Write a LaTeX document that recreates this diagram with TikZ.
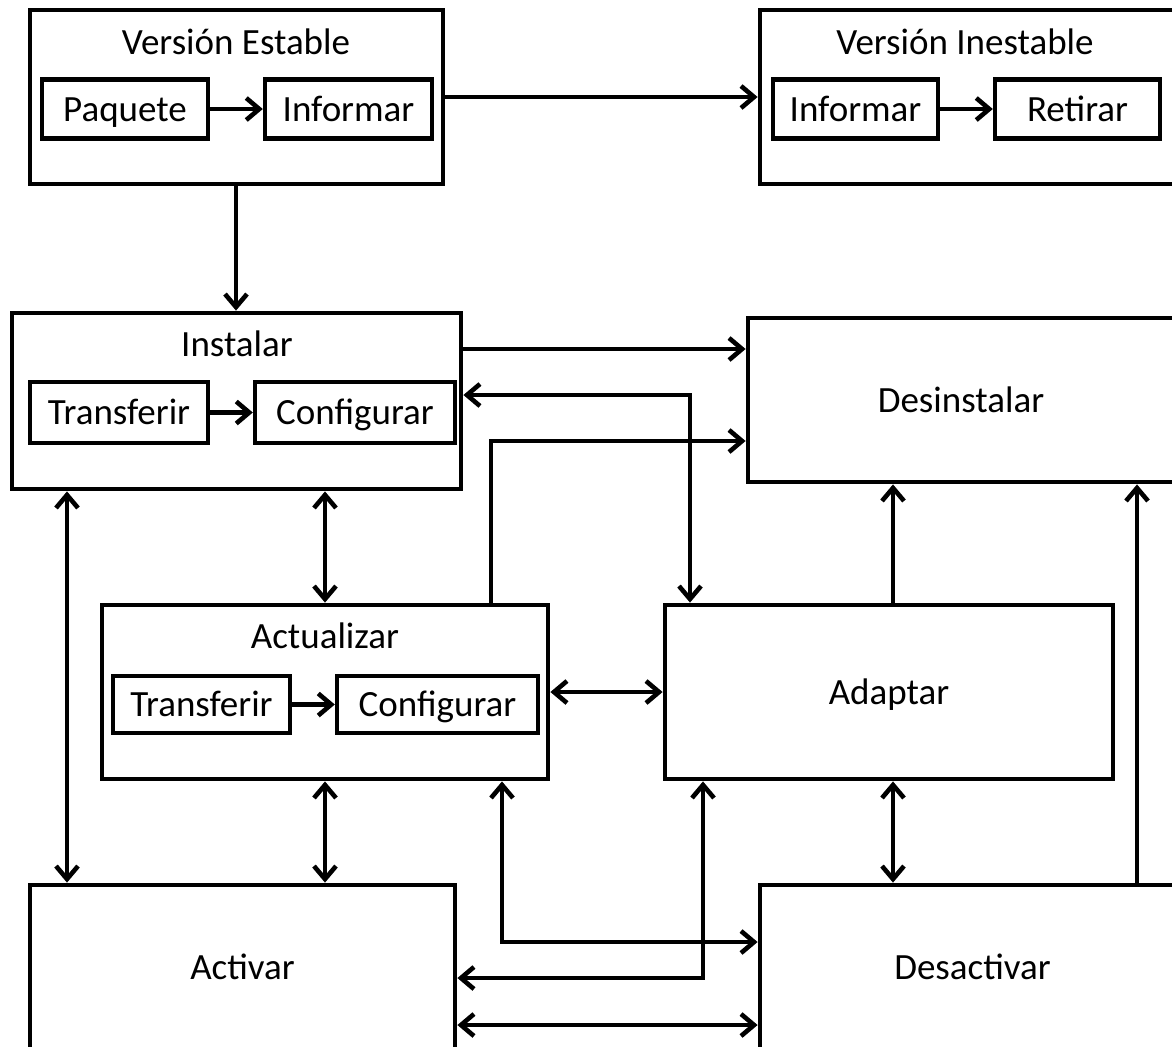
\documentclass[tikz,border=0pt]{standalone}
\usepackage{fontspec}
\setmainfont{Carlito}
\usepackage{tikz}
\usetikzlibrary{arrows.meta}
\tikzset{
  bloque/.style={rectangle,draw,line width=2.4pt,inner sep=0pt,text height=15pt,text depth=3pt},
  caja/.style={rectangle,draw,line width=2.2pt,inner sep=0pt,minimum height=29.5pt,
    text height=15pt,text depth=3pt},
  titulo/.style={inner sep=0pt,text height=15pt,text depth=3pt},
  flecha/.style={line width=2.3pt,-{Straight Barb[length=6.5pt,width=11pt]}},
  doble/.style={line width=2.3pt,{Straight Barb[length=6.5pt,width=11pt]}-{Straight Barb[length=6.5pt,width=11pt]}}
}

\begin{document}
\begin{tikzpicture}[x=0.5pt,y=-0.5pt,font=\fontsize{18.5}{22}\selectfont]
  \path[use as bounding box,clip] (0,0) rectangle (1172,1046);
  % versiones
  \node[bloque,minimum width=206.5pt,minimum height=87pt] (VE) at (236.5,97) {};
  \node[titulo] (tVE) at (236,42) {Versión Estable};
  \node[caja,minimum width=83pt] (paquete) at (125,109) {Paquete};
  \node[caja,minimum width=83.5pt] (informarE) at (348.5,109) {Informar};
  \node[bloque,minimum width=208pt,minimum height=87pt] (VI) at (968,97) {};
  \node[titulo] (tVI) at (965,42) {Versión Inestable};
  \node[caja,minimum width=82.5pt] (informarI) at (855.5,109) {Informar};
  \node[caja,minimum width=82.5pt] (retirar) at (1077.5,109) {Retirar};
  % instalar / desinstalar
  \node[bloque,minimum width=224.5pt,minimum height=88pt] (instalar) at (236.5,401) {};
  \node[titulo] (tinstalar) at (237,344) {Instalar};
  \node[caja,minimum width=89pt,minimum height=30.5pt] (transfI) at (119,412.5) {Transferir};
  \node[caja,minimum width=100pt,minimum height=30.5pt] (configI) at (355,412.5) {Configurar};
  \node[bloque,minimum width=213pt,minimum height=82pt] (desinstalar) at (961,400) {Desinstalar};
  % actualizar / adaptar
  \node[bloque,minimum width=223pt,minimum height=87pt] (actualizar) at (325,692) {};
  \node[titulo] (tactualizar) at (325,636) {Actualizar};
  \node[caja,minimum width=88.5pt,minimum height=28.5pt] (transfA) at (201.5,704.5) {Transferir};
  \node[caja,minimum width=100.5pt,minimum height=28.5pt] (configA) at (437.5,704.5) {Configurar};
  \node[bloque,minimum width=224pt,minimum height=87pt] (adaptar) at (889,692) {Adaptar};
  % activar / desactivar
  \node[bloque,minimum width=212.5pt,minimum height=82.5pt] (activar) at (242.5,967.5) {Activar};
  \node[bloque,minimum width=212.5pt,minimum height=82.5pt] (desactivar) at (972.5,967.5) {Desactivar};

  % flechas internas
  \draw[flecha] (paquete) -- (informarE);
  \draw[flecha] (informarI) -- (retirar);
  \draw[flecha] (transfI) -- (configI);
  \draw[flecha] (transfA) -- (configA);

  % conexiones
  \draw[flecha] (VE) -- (VI);
  \draw[flecha] (VE.south -| tVE) -- (instalar.north -| tVE);
  \draw[flecha] (instalar.east |- 0,349) -- (desinstalar.west |- 0,349);
  \draw[doble] (instalar.east |- 0,395) -| (adaptar.north -| 690,0);
  \draw[flecha] (actualizar.north -| 491,0) |- (desinstalar.west |- 0,441);
  \draw[doble] (instalar.south -| actualizar.north) -- (actualizar.north);
  \draw[doble] (instalar.south -| 67,0) -- (activar.north -| 67,0);
  \draw[doble] (actualizar) -- (adaptar);
  \draw[flecha] (adaptar.north -| 893,0) -- (desinstalar.south -| 893,0);
  \draw[doble] (adaptar.south -| 893,0) -- (desactivar.north -| 893,0);
  \draw[flecha] (desactivar.north -| 1137,0) -- (desinstalar.south -| 1137,0);
  \draw[doble] (actualizar.south) -- (activar.north -| actualizar.south);
  \draw[doble] (actualizar.south -| 502,0) |- (desactivar.west |- 0,942);
  \draw[doble] (adaptar.south -| 703,0) |- (activar.east |- 0,978);
  \draw[doble] (activar.east |- 0,1025) -- (desactivar.west |- 0,1025);
\end{tikzpicture}
\end{document}
